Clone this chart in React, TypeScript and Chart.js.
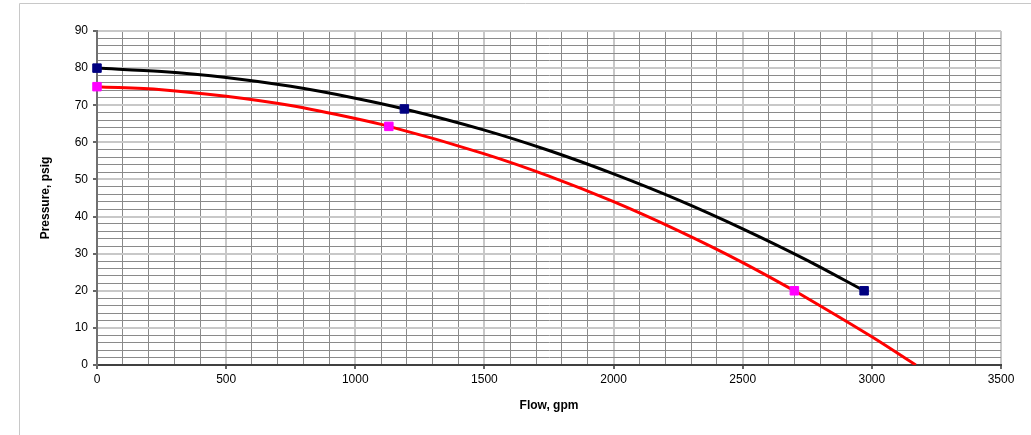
import React, { useEffect, useRef } from 'react';
import { Chart, registerables } from 'chart.js';

Chart.register(...registerables);

// Curve A (black trendline)
const blackCurveFlow = [0, 250, 500, 750, 1000, 1190, 1500, 1750, 2000, 2250, 2500, 2750, 2970];
const blackCurvePressure = [80, 79.1, 77.5, 75.1, 71.9, 69, 63.3, 57.8, 51.5, 44.5, 36.7, 28.2, 20];
// Curve A measured points
const blackPointFlow = [0, 1190, 2970];
const blackPointPressure = [80, 69, 20];

// Curve B (red trendline)
const redCurveFlow = [0, 250, 500, 750, 1000, 1130, 1500, 1750, 2000, 2250, 2500, 2700, 2750, 3000, 3170];
const redCurvePressure = [75, 74.2, 72.4, 69.9, 66.4, 64.3, 56.9, 50.9, 44, 36.2, 27.6, 20, 18, 7.6, 0];
// Curve B measured points
const redPointFlow = [0, 1130, 2700];
const redPointPressure = [75, 64.3, 20];

// Axis tick labels
const xTickLabels = [0, 500, 1000, 1500, 2000, 2500, 3000, 3500];
const yTickLabels = [0, 10, 20, 30, 40, 50, 60, 70, 80, 90];

const xMinorStep = 100;
const yMinorStep = 2;

const FONT = "'Liberation Sans', Arial, sans-serif";

const zip = (xs: number[], ys: number[]) => xs.map((x, i) => ({ x, y: ys[i] }));

const framePlugin = {
  id: 'frame',
  beforeDraw(chart: any) {
    const ctx = chart.ctx;
    ctx.save();
    ctx.strokeStyle = '#c8c8c8';
    ctx.lineWidth = 1;
    ctx.beginPath();
    ctx.moveTo(19.5, 435);
    ctx.lineTo(19.5, 3.5);
    ctx.lineTo(1031, 3.5);
    ctx.stroke();
    ctx.restore();
  },
};

export default function App() {
  const ref = useRef<HTMLCanvasElement | null>(null);

  useEffect(() => {
    if (!ref.current) return;
    const isMajorX = (v: number) => xTickLabels.includes(v);
    const isMajorY = (v: number) => yTickLabels.includes(v);

    const chart = new Chart(ref.current, {
      type: 'scatter',
      data: {
        datasets: [
          {
            type: 'scatter',
            data: zip(blackPointFlow, blackPointPressure),
            pointStyle: 'rect',
            pointRadius: 6,
            backgroundColor: '#000080',
            borderColor: '#000080',
            borderWidth: 1,
            clip: false,
            order: 0,
          },
          {
            type: 'scatter',
            data: zip(redPointFlow, redPointPressure),
            pointStyle: 'rect',
            pointRadius: 6,
            backgroundColor: '#ff00ff',
            borderColor: '#ff00ff',
            borderWidth: 1,
            clip: false,
            order: 0,
          },
          {
            type: 'line',
            data: zip(blackCurveFlow, blackCurvePressure),
            borderColor: '#000000',
            borderWidth: 3,
            pointRadius: 0,
            cubicInterpolationMode: 'monotone',
            fill: false,
            order: 1,
          },
          {
            type: 'line',
            data: zip(redCurveFlow, redCurvePressure),
            borderColor: '#ff0000',
            borderWidth: 3,
            pointRadius: 0,
            cubicInterpolationMode: 'monotone',
            fill: false,
            order: 1,
          },
        ] as any,
      },
      plugins: [framePlugin],
      options: {
        animation: false,
        responsive: false,
        devicePixelRatio: 1,
        layout: { padding: { left: 0, top: 31, right: 30, bottom: 0 } },
        plugins: { legend: { display: false }, tooltip: { enabled: false } },
        scales: {
          x: {
            type: 'linear',
            min: 0,
            max: 3500,
            afterFit: (s: any) => { s.height = 70; },
            afterBuildTicks: (s: any) => {
              const t = [];
              for (let v = 0; v <= 3500; v += xMinorStep) t.push({ value: v });
              s.ticks = t;
            },
            ticks: {
              autoSkip: false,
              maxRotation: 0,
              padding: 3,
              color: '#000',
              font: { family: FONT, size: 12 },
              callback: (v: any) => (isMajorX(v) ? String(v) : ''),
            },
            grid: {
              color: (c: any) => (c.tick && isMajorX(c.tick.value) ? '#c8c8c8' : '#8a8a8a'),
              lineWidth: (c: any) => (c.tick && isMajorX(c.tick.value) ? 2 : 1),
              tickColor: (c: any) => (c.tick && isMajorX(c.tick.value) ? '#666' : 'rgba(0,0,0,0)'),
              tickLength: 4,
            },
            border: { color: '#404040', width: 2 },
            title: {
              display: true,
              text: 'Flow, gpm',
              color: '#000',
              font: { family: FONT, size: 12, weight: 'bold' },
              padding: { top: 0, bottom: 22 },
            },
          },
          y: {
            type: 'linear',
            min: 0,
            max: 90,
            afterFit: (s: any) => { s.width = 97; },
            afterBuildTicks: (s: any) => {
              const t = [];
              for (let v = 0; v <= 90; v += yMinorStep) t.push({ value: v });
              s.ticks = t;
            },
            ticks: {
              autoSkip: false,
              padding: 5,
              color: '#000',
              font: { family: FONT, size: 12 },
              callback: (v: any) => (isMajorY(v) ? String(v) : ''),
            },
            grid: {
              color: (c: any) => (c.tick && isMajorY(c.tick.value) ? '#c8c8c8' : '#8a8a8a'),
              lineWidth: (c: any) => (c.tick && isMajorY(c.tick.value) ? 2 : 1),
              tickColor: (c: any) => (c.tick && isMajorY(c.tick.value) ? '#666' : 'rgba(0,0,0,0)'),
              tickLength: 4,
            },
            border: { color: '#707070', width: 2 },
            title: {
              display: true,
              text: 'Pressure, psig',
              color: '#000',
              font: { family: FONT, size: 12, weight: 'bold' },
              padding: { top: 38, bottom: 0 },
            },
          },
        },
      } as any,
    });
    return () => chart.destroy();
  }, []);

  return (
    <div style={{ position: 'absolute', left: 0, top: 0, width: 1031, height: 435, background: '#fff' }}>
      <canvas ref={ref} width={1031} height={435} style={{ display: 'block', width: 1031, height: 435 }} />
    </div>
  );
}
